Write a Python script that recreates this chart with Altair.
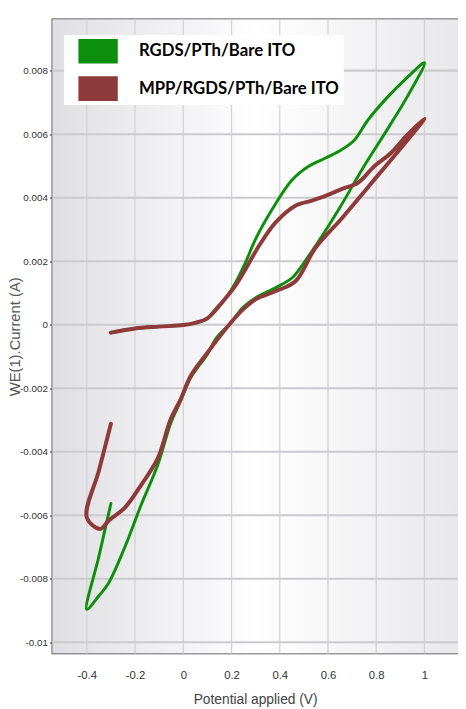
import altair as alt
import pandas as pd

# ---------------- data ----------------
series_names = ["RGDS/PTh/Bare ITO", "MPP/RGDS/PTh/Bare ITO"]
series_colors = ["#0d8f0d", "#8e3a3a"]
series_widths = [3.0, 4.0]

green_v = [-0.30, -0.20, -0.10, 0.00, 0.05, 0.10, 0.13, 0.18, 0.22, 0.254, 0.30, 0.37,
           0.45, 0.52, 0.59, 0.656, 0.71, 0.765, 0.846, 0.928, 1.00,
           0.93, 0.85, 0.75, 0.65, 0.58, 0.50, 0.452, 0.384, 0.302, 0.248, 0.193, 0.139,
           0.098, 0.03, -0.011, -0.052, -0.106, -0.174, -0.242, -0.31, -0.351, -0.40,
           -0.35, -0.30]
green_i = [-0.00025, -0.00012, -0.00006, -0.00001, 0.00006, 0.0002, 0.00046, 0.00088,
           0.00137, 0.00189, 0.0027, 0.00365, 0.00455, 0.00499, 0.00525, 0.00551, 0.00582,
           0.00644, 0.00716, 0.00778, 0.00825,
           0.0072, 0.0062, 0.0050, 0.0037, 0.00285, 0.00195, 0.00148, 0.00117, 0.00086,
           0.00055, 0.00002, -0.0004, -0.00095, -0.00168, -0.0024, -0.0031, -0.00442,
           -0.00566, -0.007, -0.00814, -0.00855, -0.00896,
           -0.0073, -0.00563]

brown_v = [-0.30, -0.20, -0.10, 0.00, 0.05, 0.10, 0.166, 0.22, 0.261, 0.316, 0.384, 0.465,
           0.533, 0.59, 0.656, 0.724, 0.792, 0.86, 0.928, 1.00,
           0.928, 0.86, 0.792, 0.724, 0.656, 0.547, 0.465, 0.384, 0.30, 0.25, 0.19, 0.098,
           0.03, -0.011, -0.052, -0.106, -0.174, -0.242, -0.31, -0.344, -0.40,
           -0.35, -0.30]
brown_i = [-0.00025, -0.00012, -0.00006, -0.00001, 0.00006, 0.0002, 0.00075, 0.00127,
           0.00179, 0.00251, 0.00323, 0.00375, 0.00391, 0.00406, 0.00427, 0.00447, 0.00499,
           0.0054, 0.00597, 0.00649,
           0.0058, 0.00518, 0.00457, 0.00395, 0.00334, 0.00241, 0.00137, 0.00106, 0.0008,
           0.0005, 0.0, -0.0009, -0.00162, -0.00235, -0.00297, -0.00421, -0.00504,
           -0.00576, -0.00617, -0.00643, -0.00607,
           -0.0046, -0.00312]

x_major = [-0.4, -0.2, 0, 0.2, 0.4, 0.6, 0.8, 1]
x_minor = [-0.5, -0.3, -0.1, 0.1, 0.3, 0.5, 0.7, 0.9, 1.1]
y_major = [-0.01, -0.008, -0.006, -0.004, -0.002, 0, 0.002, 0.004, 0.006, 0.008]
y_minor = [-0.009, -0.007, -0.005, -0.003, -0.001, 0.001, 0.003, 0.005, 0.007, 0.009]
x_domain = [-0.543, 1.139]
y_domain = [-0.01035, 0.00962]

# ---------------- tables ----------------
rows = []
for name, vs, cs in [(series_names[0], green_v, green_i), (series_names[1], brown_v, brown_i)]:
    for k, (v, c) in enumerate(zip(vs, cs)):
        rows.append({"V": v, "I": c, "series": name, "order": k})
df = pd.DataFrame(rows)
gx_df = pd.DataFrame({"gx": x_major})
gy_df = pd.DataFrame({"gy": y_major})
one = pd.DataFrame({"k": [0]})

W, H = 412, 644
TICK_FONT = "Liberation Sans Narrow, Liberation Sans, Arial"
LABEL_EXPR = "'' + datum.value"

xs = alt.Scale(domain=x_domain, nice=False, zero=False)
ys = alt.Scale(domain=y_domain, nice=False, zero=False)
cscale = alt.Scale(domain=series_names, range=series_colors)


def tick_axis(orient, values, offset, size):
    return alt.Axis(orient=orient, values=values, offset=offset, tickSize=size,
                    ticks=True, labels=False, domain=False, grid=False, title=None,
                    tickColor="#333333", tickWidth=1.1)


ax_x_main = alt.Axis(orient="bottom", values=x_major, labelExpr=LABEL_EXPR, ticks=False,
                     domain=False, grid=False, labelPadding=17, labelFont=TICK_FONT,
                     labelFontSize=11.5, labelColor="#333333", title="Potential applied (V)",
                     titleFont=TICK_FONT, titleFontSize=14, titleColor="#444444",
                     titleFontWeight="normal", titlePadding=11)
ax_y_main = alt.Axis(orient="left", values=y_major, labelExpr=LABEL_EXPR, ticks=True,
                     tickSize=3, tickColor="#333333", domain=False, grid=False,
                     labelPadding=2, labelFont=TICK_FONT, labelFontSize=10,
                     labelColor="#333333", title="WE(1).Current (A)",
                     titleFont="Liberation Sans, Arial", titleFontSize=15,
                     titleColor="#555555", titleFontWeight="normal",
                     titleX=-45, titleY=H / 2, titleAngle=270, titleAlign="center",
                     titleBaseline="top")

legend = alt.Legend(orient="none", legendX=12, legendY=16, title=None,
                    fillColor="white", padding=4, cornerRadius=0,
                    symbolType="M-1.6,-1L1.6,-1L1.6,1L-1.6,1Z", symbolSize=625,
                    symbolOpacity=1, symbolStrokeWidth=0, symbolOffset=18,
                    labelFont="Lato", labelFontWeight="bold", labelFontSize=17,
                    labelColor="black", labelOffset=29, labelLimit=400, rowPadding=13)

bg = alt.Chart(one).mark_rect(
    fill=alt.LinearGradient(
        gradient="linear", x1=0, y1=0, x2=1, y2=0,
        stops=[alt.GradientStop(color="#dfdfe3", offset=0),
               alt.GradientStop(color="#ececef", offset=0.2),
               alt.GradientStop(color="#f6f6f8", offset=0.38),
               alt.GradientStop(color="#ffffff", offset=0.5),
               alt.GradientStop(color="#f7f7f8", offset=0.68),
               alt.GradientStop(color="#e8e8eb", offset=1)]),
).encode(x=alt.value(0), x2=alt.value(W), y=alt.value(0), y2=alt.value(H))

vgrid = alt.Chart(gx_df).mark_rule(color="#d3d3d7", strokeWidth=1.3).encode(
    x=alt.X("gx:Q", scale=xs, axis=tick_axis("bottom", x_major, -10, 10)),
    y=alt.value(0), y2=alt.value(H))

hgrid = alt.Chart(gy_df).mark_rule(color="#cbcbcf", strokeWidth=2.2).encode(
    y=alt.Y("gy:Q", scale=ys, axis=tick_axis("left", y_minor, -4, 4)),
    x=alt.value(0), x2=alt.value(W))


def curve_layer(idx, xaxis, yaxis):
    return alt.Chart(df).transform_filter(
        alt.datum.series == series_names[idx]
    ).mark_line(strokeCap="round", strokeJoin="round", interpolate="catmull-rom",
                color=series_colors[idx], strokeWidth=series_widths[idx]).encode(
        x=alt.X("V:Q", scale=xs, axis=xaxis),
        y=alt.Y("I:Q", scale=ys, axis=yaxis),
        order="order:Q")


green_line = curve_layer(0, ax_x_main, ax_y_main)
brown_line = curve_layer(1, None, None)

pts1 = alt.Chart(df).mark_square(opacity=0).encode(
    x=alt.X("V:Q", scale=xs, axis=tick_axis("bottom", x_minor, -5, 5)),
    y=alt.Y("I:Q", scale=ys, axis=tick_axis("right", y_major, -5, 5)),
    color=alt.Color("series:N", scale=cscale, legend=legend))

pts2 = alt.Chart(df).mark_point(opacity=0).encode(
    x=alt.X("V:Q", scale=xs, axis=tick_axis("top", x_major, -10, 10)),
    y=alt.Y("I:Q", scale=ys, axis=tick_axis("right", y_minor, -3, 3)))

pts3 = alt.Chart(df).mark_point(opacity=0).encode(
    x=alt.X("V:Q", scale=xs, axis=tick_axis("top", x_minor, -5, 5)),
    y=alt.Y("I:Q", scale=ys, axis=None))

chart = alt.layer(bg, vgrid, hgrid, green_line, brown_line, pts1, pts2, pts3).resolve_axis(
    x="independent", y="independent"
).properties(
    width=W, height=H,
    padding={"left": 45, "top": 6, "right": 0, "bottom": 49},
    autosize=alt.AutoSizeParams(type="none"),
).configure_view(stroke="#3a3a3a", strokeWidth=1.5)

chart.save("out.html", embed_options={"renderer": "svg", "actions": False})
